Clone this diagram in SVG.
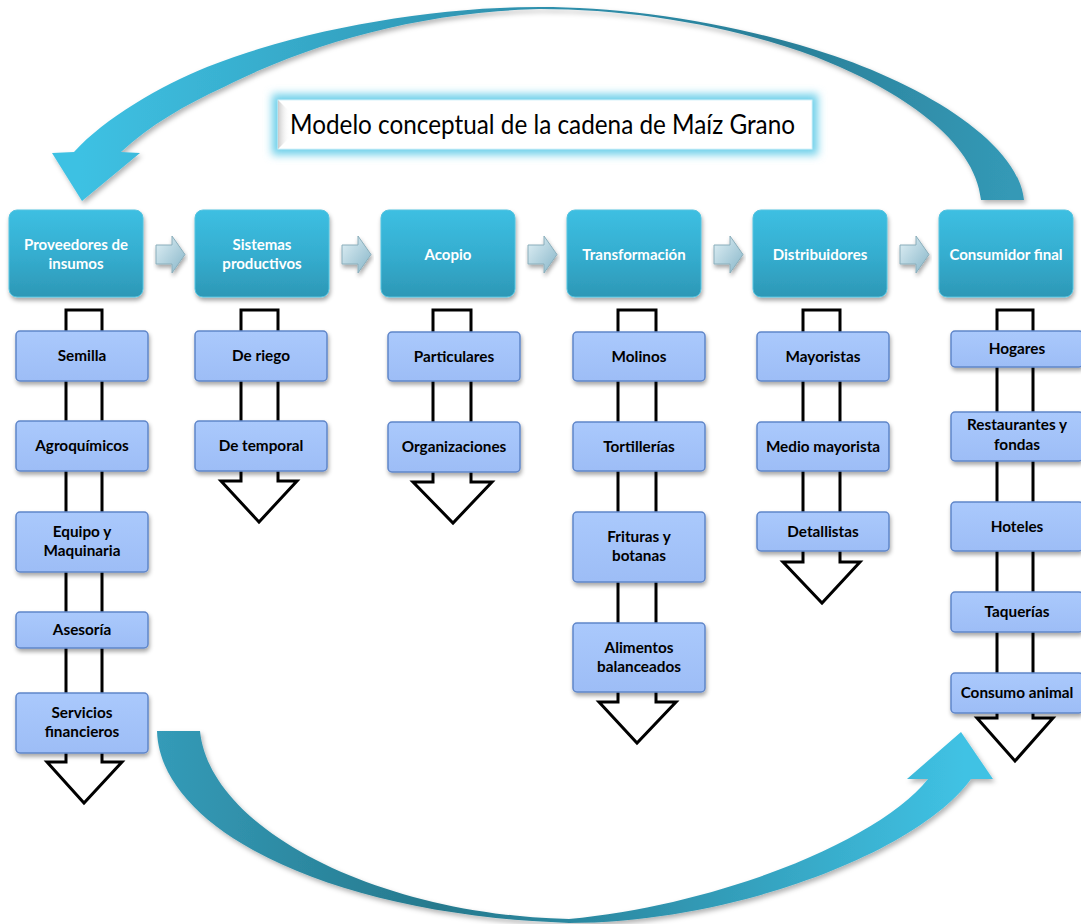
<svg xmlns="http://www.w3.org/2000/svg" width="1081" height="924" viewBox="0 0 1081 924">
<defs>
<linearGradient id="gTop" gradientUnits="userSpaceOnUse" x1="80" y1="180" x2="1010" y2="200">
<stop offset="0" stop-color="#3ec1e3"/><stop offset="0.45" stop-color="#2f93b0"/><stop offset="0.75" stop-color="#2a7f98"/><stop offset="1" stop-color="#3499b6"/>
</linearGradient>
<linearGradient id="gBot" gradientUnits="userSpaceOnUse" x1="157" y1="731" x2="965" y2="745">
<stop offset="0" stop-color="#349bb8"/><stop offset="0.35" stop-color="#26798d"/><stop offset="0.6" stop-color="#2e90aa"/><stop offset="1" stop-color="#40c2e4"/>
</linearGradient>
<linearGradient id="gHdr" x1="0" y1="0" x2="0" y2="1">
<stop offset="0" stop-color="#3dbfe2"/><stop offset="0.5" stop-color="#35aed0"/><stop offset="1" stop-color="#2d98b6"/>
</linearGradient>
<linearGradient id="gSub" x1="0" y1="0" x2="0" y2="1">
<stop offset="0" stop-color="#aac9fc"/><stop offset="1" stop-color="#9dbdf6"/>
</linearGradient>
<linearGradient id="gChev" x1="0" y1="0" x2="1" y2="1">
<stop offset="0" stop-color="#e2f1f6"/><stop offset="1" stop-color="#86b5c8"/>
</linearGradient>
<linearGradient id="gBevel" x1="0" y1="0" x2="1" y2="0">
<stop offset="0" stop-color="#c9c9c9"/><stop offset="1" stop-color="#ffffff" stop-opacity="0"/>
</linearGradient>
<filter id="shadow" x="-10%" y="-10%" width="120%" height="130%">
<feDropShadow dx="1" dy="3" stdDeviation="2" flood-color="#000" flood-opacity="0.35"/>
</filter>
<filter id="glow" x="-10%" y="-40%" width="120%" height="180%">
<feGaussianBlur stdDeviation="4"/>
</filter>
<filter id="soft" x="-5%" y="-5%" width="110%" height="115%">
<feDropShadow dx="2" dy="3" stdDeviation="2.5" flood-color="#000" flood-opacity="0.3"/>
</filter>
</defs>
<style>
.hdr{fill:url(#gHdr);stroke:#55c3df;stroke-width:1;filter:url(#shadow)}
.sub{fill:url(#gSub);stroke:#5f86c9;stroke-width:1.5;filter:url(#shadow)}
.hollow{fill:#fff;stroke:#000;stroke-width:3;stroke-linejoin:miter}
.chev{fill:url(#gChev);stroke:#8aaebb;stroke-width:1;filter:url(#shadow)}
.ht{font-family:Lato,'Liberation Sans',sans-serif;font-weight:bold;font-size:15px;fill:#fff;text-anchor:middle}
.st{font-family:Lato,'Liberation Sans',sans-serif;font-weight:bold;font-size:15.3px;fill:#000;text-anchor:middle}
</style>
<rect width="1081" height="924" fill="#fff"/>

<g id="connectors">
<path d="M1024,200 C1018,140 915,80 816,50 C720,20 620,7 540,7 C430,7 300,30 207,67 C160,86 105,118 74,152 L52,153 L82,201 L140,153 L121,152 C150,125 185,105 224,87 C310,43 420,12 540,9 C630,9 730,25 816,57 C900,90 975,140 981,200 Z" fill="url(#gTop)" filter="url(#soft)"/>
<path d="M157,731 C160,830 330,915 569,923 C740,922 920,850 971,779 L993,779 L961,732 L907,779 L928,779 C880,840 720,905 569,919 C380,915 210,830 200,731 Z" fill="url(#gBot)" filter="url(#soft)"/>
<path class="hollow" d="M66,762 L66,310 L102,310 L102,762 L122,762 L84,803 L47,762 Z"/>
<path class="hollow" d="M241,481 L241,310 L278,310 L278,481 L297,481 L259,522 L221,481 Z"/>
<path class="hollow" d="M433,482 L433,310 L471,310 L471,482 L492,482 L453,523 L413,482 Z"/>
<path class="hollow" d="M618,702 L618,310 L656,310 L656,702 L676,702 L637,743 L599,702 Z"/>
<path class="hollow" d="M803,562 L803,310 L840,310 L840,562 L860,562 L822,603 L783,562 Z"/>
<path class="hollow" d="M997,718 L997,310 L1033,310 L1033,718 L1053,718 L1015,761 L977,718 Z"/>
<polygon class="chev" points="156,245 172,245 172,236 185,254.5 172,273 172,264 156,264"/>
<polygon class="chev" points="342,245 358,245 358,236 371,254.5 358,273 358,264 342,264"/>
<polygon class="chev" points="528,245 544,245 544,236 557,254.5 544,273 544,264 528,264"/>
<polygon class="chev" points="714,245 730,245 730,236 743,254.5 730,273 730,264 714,264"/>
<polygon class="chev" points="900,245 916,245 916,236 929,254.5 916,273 916,264 900,264"/>
</g>

<g id="title">
<rect x="272" y="94" width="546" height="61" fill="#6fd0ea" filter="url(#glow)"/>
<rect x="278" y="100" width="534" height="49" fill="#fff" stroke="#d6f2fa" stroke-width="1"/>
<polygon points="278,100 290,112 290,137 278,149" fill="url(#gBevel)"/>
<text x="290" y="134" font-family="Lato,'Liberation Sans',sans-serif" font-size="26" fill="#000" textLength="505" lengthAdjust="spacingAndGlyphs">Modelo conceptual de la cadena de Maíz Grano</text>
</g>

<g id="n-proveedores"><rect class="hdr" x="9" y="210" width="134" height="87" rx="8"/><text class="ht" x="76" y="250">Proveedores de</text><text class="ht" x="76" y="268.5">insumos</text></g>
<g id="n-sistemas"><rect class="hdr" x="195" y="210" width="134" height="87" rx="8"/><text class="ht" x="262" y="250">Sistemas</text><text class="ht" x="262" y="268.5">productivos</text></g>
<g id="n-acopio"><rect class="hdr" x="381" y="210" width="134" height="87" rx="8"/><text class="ht" x="448" y="259.5">Acopio</text></g>
<g id="n-transformacion"><rect class="hdr" x="567" y="210" width="134" height="87" rx="8"/><text class="ht" x="634" y="259.5">Transformación</text></g>
<g id="n-distribuidores"><rect class="hdr" x="753" y="210" width="134" height="87" rx="8"/><text class="ht" x="820" y="259.5">Distribuidores</text></g>
<g id="n-consumidor"><rect class="hdr" x="939" y="210" width="134" height="87" rx="8"/><text class="ht" x="1006" y="259.5">Consumidor final</text></g>

<g id="n-semilla"><rect class="sub" x="16" y="331" width="132" height="50" rx="4"/><text class="st" x="82" y="361">Semilla</text></g>
<g id="n-agroquimicos"><rect class="sub" x="16" y="421" width="132" height="50" rx="4"/><text class="st" x="82" y="451">Agroquímicos</text></g>
<g id="n-equipo"><rect class="sub" x="16" y="512" width="132" height="60" rx="4"/><text class="st" x="82" y="537">Equipo y</text><text class="st" x="82" y="556">Maquinaria</text></g>
<g id="n-asesoria"><rect class="sub" x="16" y="612" width="132" height="36" rx="4"/><text class="st" x="82" y="635">Asesoría</text></g>
<g id="n-servicios"><rect class="sub" x="16" y="693" width="132" height="60" rx="4"/><text class="st" x="82" y="718">Servicios</text><text class="st" x="82" y="737">financieros</text></g>

<g id="n-riego"><rect class="sub" x="195" y="331" width="132" height="50" rx="4"/><text class="st" x="261" y="361">De riego</text></g>
<g id="n-temporal"><rect class="sub" x="195" y="421" width="132" height="50" rx="4"/><text class="st" x="261" y="451">De temporal</text></g>

<g id="n-particulares"><rect class="sub" x="388" y="332" width="132" height="49" rx="4"/><text class="st" x="454" y="361.5">Particulares</text></g>
<g id="n-organizaciones"><rect class="sub" x="388" y="422" width="132" height="50" rx="4"/><text class="st" x="454" y="452">Organizaciones</text></g>

<g id="n-molinos"><rect class="sub" x="573" y="332" width="132" height="49" rx="4"/><text class="st" x="639" y="361.5">Molinos</text></g>
<g id="n-tortillerias"><rect class="sub" x="573" y="422" width="132" height="49" rx="4"/><text class="st" x="639" y="451.5">Tortillerías</text></g>
<g id="n-frituras"><rect class="sub" x="573" y="512" width="132" height="70" rx="4"/><text class="st" x="639" y="542">Frituras y</text><text class="st" x="639" y="561">botanas</text></g>
<g id="n-alimentos"><rect class="sub" x="573" y="623" width="132" height="69" rx="4"/><text class="st" x="639" y="652.5">Alimentos</text><text class="st" x="639" y="671.5">balanceados</text></g>

<g id="n-mayoristas"><rect class="sub" x="757" y="332" width="132" height="49" rx="4"/><text class="st" x="823" y="361.5">Mayoristas</text></g>
<g id="n-medio"><rect class="sub" x="757" y="422" width="132" height="49" rx="4"/><text class="st" x="823" y="451.5">Medio mayorista</text></g>
<g id="n-detallistas"><rect class="sub" x="757" y="512" width="132" height="39" rx="4"/><text class="st" x="823" y="536.5">Detallistas</text></g>

<g id="n-hogares"><rect class="sub" x="951" y="331" width="132" height="36" rx="4"/><text class="st" x="1017" y="354">Hogares</text></g>
<g id="n-restaurantes"><rect class="sub" x="951" y="412" width="132" height="49" rx="4"/><text class="st" x="1017" y="430">Restaurantes y</text><text class="st" x="1017" y="450">fondas</text></g>
<g id="n-hoteles"><rect class="sub" x="951" y="502" width="132" height="49" rx="4"/><text class="st" x="1017" y="531.5">Hoteles</text></g>
<g id="n-taquerias"><rect class="sub" x="951" y="592" width="132" height="40" rx="4"/><text class="st" x="1017" y="617">Taquerías</text></g>
<g id="n-consumo"><rect class="sub" x="951" y="673" width="132" height="40" rx="4"/><text class="st" x="1017" y="698">Consumo animal</text></g>
</svg>
